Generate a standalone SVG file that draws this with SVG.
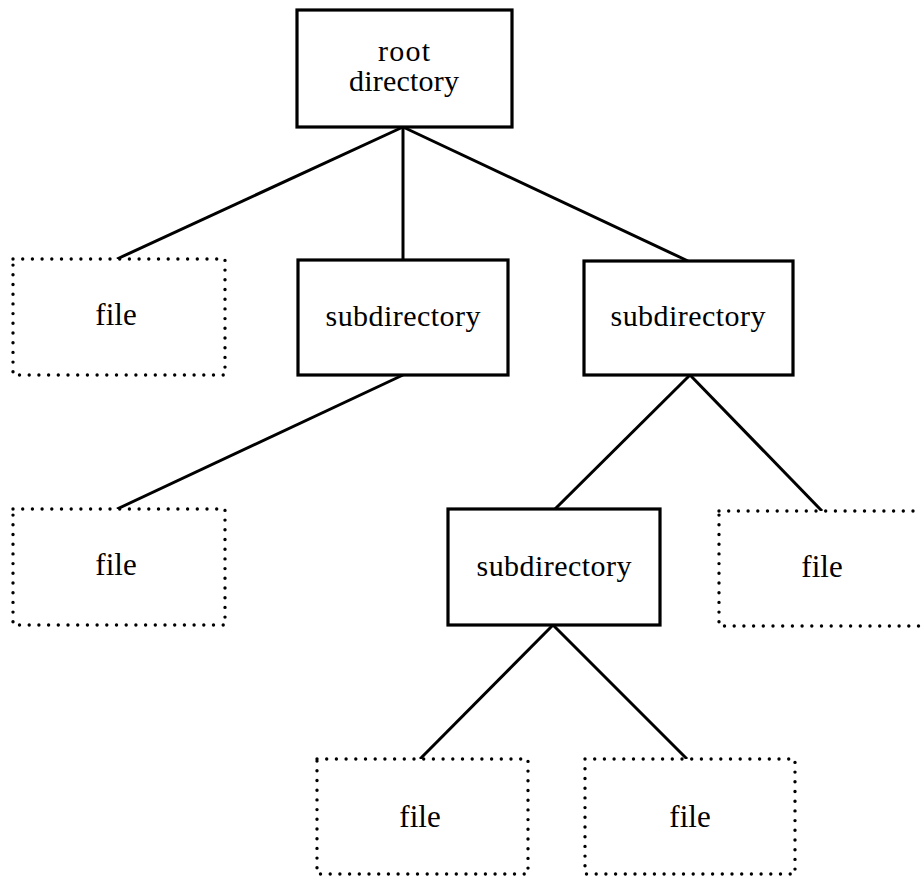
<svg xmlns="http://www.w3.org/2000/svg" width="921" height="876" viewBox="0 0 921 876">
<style>
.dir{fill:#fff;stroke:#000;stroke-width:3.2}
.file{fill:#fff;stroke:#000;stroke-width:3.4;stroke-dasharray:0 9.7;stroke-linecap:round}
.edge{stroke:#000;stroke-width:3;fill:none}
text{font-family:"Liberation Serif","DejaVu Serif",serif;font-size:30px;fill:#000;text-anchor:middle}
.f{font-size:31px}
</style>
<rect width="921" height="876" fill="#fff"/>
<g id="connectors">
<line class="edge" x1="403" y1="127" x2="117" y2="259"/>
<line class="edge" x1="403" y1="127" x2="403" y2="260"/>
<line class="edge" x1="403" y1="127" x2="688" y2="261"/>
<line class="edge" x1="403" y1="375" x2="117" y2="509"/>
<line class="edge" x1="690" y1="375" x2="555" y2="509"/>
<line class="edge" x1="690" y1="375" x2="822" y2="511"/>
<line class="edge" x1="553" y1="625" x2="420" y2="759"/>
<line class="edge" x1="553" y1="625" x2="687" y2="759"/>
</g>
<g id="root">
<rect class="dir" x="297" y="10" width="215" height="117"/>
<text x="404" y="61" textLength="52">root</text>
<text x="404" y="91" textLength="110">directory</text>
</g>
<g id="file1">
<rect class="file" x="13" y="259" width="212" height="116"/>
<text class="f" x="116" y="325">file</text>
</g>
<g id="subdir1">
<rect class="dir" x="298" y="260" width="210" height="115"/>
<text x="403" y="326" textLength="155">subdirectory</text>
</g>
<g id="subdir2">
<rect class="dir" x="584" y="261" width="209" height="114"/>
<text x="688" y="326" textLength="155">subdirectory</text>
</g>
<g id="file2">
<rect class="file" x="13" y="509" width="212" height="116"/>
<text class="f" x="116" y="575">file</text>
</g>
<g id="subdir3">
<rect class="dir" x="448" y="509" width="212" height="116"/>
<text x="554" y="576" textLength="155">subdirectory</text>
</g>
<g id="file3">
<rect class="file" x="719" y="511" width="212" height="115"/>
<text class="f" x="822" y="577">file</text>
</g>
<g id="file4">
<rect class="file" x="317" y="759" width="211" height="115"/>
<text class="f" x="420" y="827">file</text>
</g>
<g id="file5">
<rect class="file" x="585" y="759" width="210" height="115"/>
<text class="f" x="690" y="827">file</text>
</g>
</svg>
